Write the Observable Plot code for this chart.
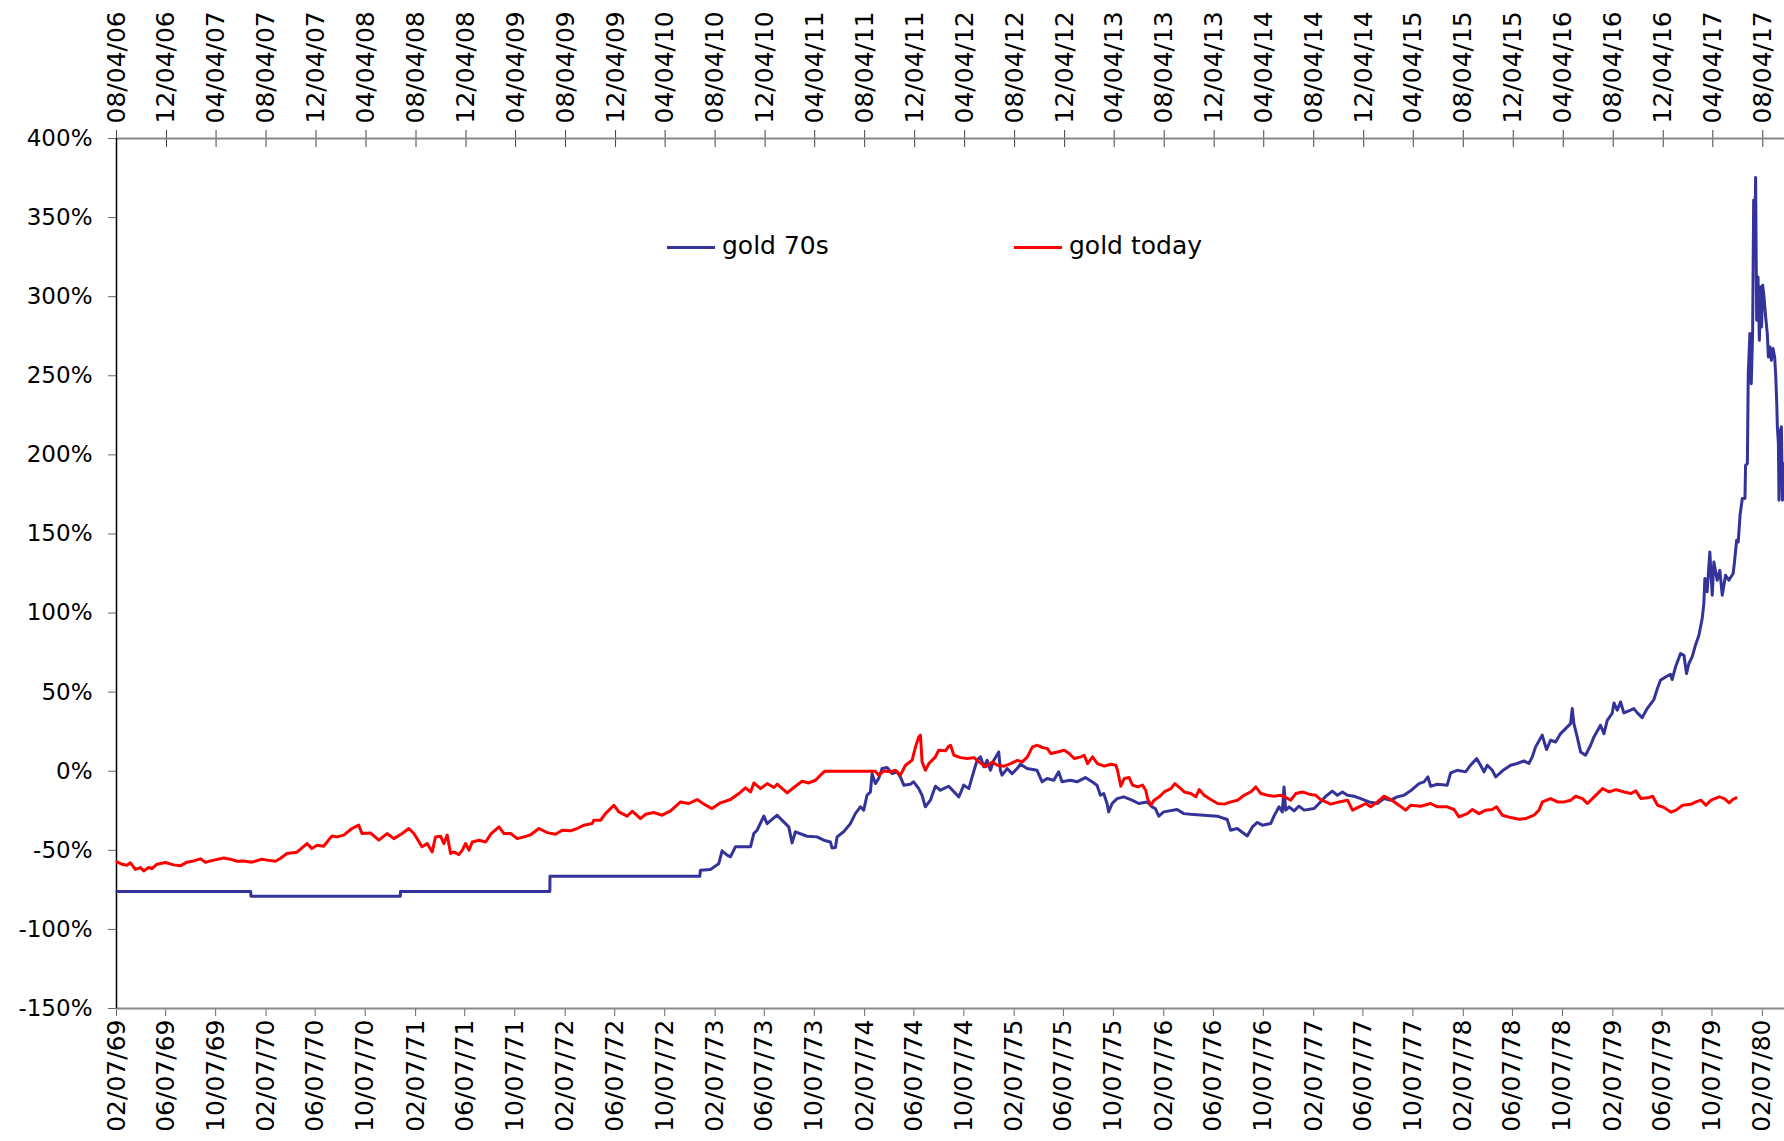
<!DOCTYPE html>
<html>
<head>
<meta charset="utf-8">
<script src="https://cdn.jsdelivr.net/npm/d3@7"></script>
<script src="https://cdn.jsdelivr.net/npm/@observablehq/plot@0.6"></script>
<style>
  html, body { margin: 0; padding: 0; background: #fff; }
  #wrap { position: relative; width: 1784px; height: 1141px; }
  .leg { position: absolute; font-family: "DejaVu Sans", sans-serif; font-size: 25px; line-height: 30px; color: #000; white-space: nowrap; }
  .sw { position: absolute; height: 3px; }
</style>
</head>
<body>
<div id="wrap"></div>
<script>
// ---- DATA (dates as decimal years, values in %) ----
const seriesNames = ["gold 70s", "gold today"];
const seriesColors = ["#333399", "#ff0000"];

const gold70s = [
[1969.104,-76.1],[1969.999,-76.1],[1970.000,-79.0],[1970.999,-79.0],[1971.000,-76.1],[1971.999,-76.1],
[1972.000,-66.4],[1972.999,-66.4],[1973.003,-62.6],[1973.070,-62.1],[1973.126,-58.4],[1973.148,-50.3],
[1973.182,-53.1],[1973.204,-54.1],[1973.237,-47.8],[1973.338,-47.8],[1973.360,-39.4],[1973.382,-37.3],
[1973.427,-28.4],[1973.449,-33.1],[1973.516,-27.8],[1973.560,-32.0],[1973.594,-35.2],[1973.616,-45.3],
[1973.638,-38.3],[1973.716,-41.1],[1973.783,-41.5],[1973.828,-43.6],[1973.872,-44.7],[1973.883,-48.5],
[1973.906,-48.2],[1973.917,-41.5],[1973.961,-38.3],[1974.006,-33.1],[1974.039,-26.8],[1974.073,-22.5],
[1974.095,-24.6],[1974.117,-15.2],[1974.140,-13.1],[1974.151,-1.5],[1974.173,-7.8],[1974.195,-4.6],
[1974.218,1.7],[1974.251,2.3],[1974.285,-1.5],[1974.318,-0.4],[1974.340,-3.6],[1974.363,-8.8],
[1974.407,-8.2],[1974.429,-6.7],[1974.463,-11.0],[1974.485,-15.2],[1974.507,-22.5],[1974.541,-18.3],
[1974.574,-9.5],[1974.608,-12.0],[1974.663,-9.5],
[1974.731,-16.2],[1974.764,-8.8],[1974.798,-11.0],[1974.820,-3.6],[1974.853,6.9],[1974.876,9.1],
[1974.898,2.8],[1974.920,6.9],[1974.942,0.6],[1974.965,6.9],[1974.998,12.2],[1975.009,0.6],
[1975.020,-2.5],[1975.054,1.7],[1975.087,-1.5],[1975.121,1.7],[1975.143,4.4],[1975.187,1.7],
[1975.254,0.6],[1975.288,-6.7],[1975.321,-4.6],[1975.366,-5.7],[1975.399,-0.4],[1975.421,-6.7],
[1975.477,-5.7],[1975.522,-6.7],[1975.577,-4.0],[1975.622,-6.7],[1975.655,-8.8],[1975.678,-15.2],
[1975.700,-14.1],[1975.722,-20.4],[1975.733,-25.7],[1975.756,-20.4],[1975.789,-17.3],[1975.834,-16.2],
[1975.889,-18.3],[1975.934,-20.4],[1975.990,-19.4],[1976.023,-22.5],[1976.045,-23.6],[1976.068,-28.4],
[1976.101,-25.7],[1976.190,-24.2],[1976.235,-26.8],[1976.279,-27.2],[1976.368,-27.8],[1976.458,-28.4],
[1976.524,-30.5],[1976.547,-37.3],[1976.591,-36.2],[1976.636,-39.4],[1976.658,-40.9],[1976.692,-35.2],
[1976.725,-32.4],[1976.758,-34.1],[1976.814,-33.1],[1976.836,-28.4],[1976.870,-22.5],[1976.892,-25.7],
[1976.903,-9.9],[1976.914,-24.6],[1976.937,-22.5],[1976.970,-25.1],[1977.003,-22.1],[1977.037,-24.6],
[1977.104,-23.6],[1977.137,-20.4],[1977.182,-15.8],[1977.226,-12.6],[1977.260,-15.2],[1977.293,-13.1],
[1977.327,-15.2],[1977.371,-15.8],[1977.416,-17.3],[1977.471,-19.4],
[1977.527,-20.4],[1977.571,-17.3],[1977.616,-18.3],[1977.660,-16.2],[1977.705,-15.2],[1977.749,-12.4],
[1977.805,-7.8],[1977.839,-6.7],[1977.865,-3.6],[1977.883,-9.5],[1977.928,-8.2],[1977.994,-8.8],
[1978.017,-1.0],[1978.061,0.6],[1978.117,-0.4],[1978.150,3.8],[1978.191,8.0],[1978.217,3.8],
[1978.240,-0.4],[1978.262,3.8],[1978.295,0.6],[1978.318,-3.6],[1978.373,1.0],[1978.418,3.8],
[1978.462,4.9],[1978.507,6.5],[1978.540,4.9],[1978.563,9.1],[1978.585,15.4],[1978.629,22.8],
[1978.658,13.7],[1978.685,19.6],[1978.719,18.5],[1978.752,23.8],[1978.797,28.0],[1978.819,30.1],
[1978.830,39.6],[1978.841,30.1],[1978.863,21.7],[1978.886,12.2],[1978.919,10.1],[1978.953,16.4],
[1978.975,21.7],[1979.019,29.1],[1979.042,23.8],[1979.064,32.2],[1979.097,36.5],[1979.109,43.2],
[1979.131,38.6],[1979.153,43.8],[1979.175,36.9],[1979.220,38.6],[1979.242,39.6],[1979.265,36.9],
[1979.298,33.9],[1979.331,39.6],[1979.376,45.3],[1979.403,53.3],[1979.420,57.5],[1979.454,59.6],
[1979.487,61.3],[1979.498,58.0],[1979.521,66.0],[1979.554,74.4],[1979.577,73.3],[1979.594,61.7],
[1979.610,68.1],[1979.632,72.3],[1979.654,79.7],[1979.677,86.0],[1979.699,96.5],[1979.710,106.0],
[1979.717,121.8],[1979.732,113.4],[1979.750,138.6],[1979.766,111.3],[1979.777,132.3],[1979.799,120.7],
[1979.817,127.0],[1979.833,111.3],[1979.855,123.9],[1979.877,120.7],[1979.906,125.0],[1979.915,132.3],
[1979.929,146.0],[1979.940,145.0],[1979.952,161.8],[1979.967,172.4],[1979.985,172.4],[1979.989,193.4],
[1980.001,194.5],[1980.007,251.4],[1980.018,276.7],[1980.027,245.0],[1980.036,276.7],[1980.043,360.9],
[1980.050,335.6],[1980.056,375.3],[1980.063,285.1],[1980.072,312.5],[1980.081,272.4],[1980.090,306.2],
[1980.096,280.9],[1980.103,307.2],[1980.112,299.8],[1980.123,287.2],[1980.134,276.7],[1980.141,261.9],
[1980.152,268.2],[1980.161,259.8],[1980.172,267.2],[1980.183,261.9],[1980.190,250.3],[1980.197,232.4],
[1980.201,217.7],[1980.208,207.1],[1980.212,171.3],[1980.219,214.5],[1980.228,217.7],[1980.235,171.3],
[1980.241,194.5]
];

const goldToday = [
[2006.593,-57.3],[2006.626,-58.8],[2006.659,-59.4],[2006.682,-57.9],[2006.715,-62.1],[2006.749,-60.9],
[2006.771,-63.0],[2006.804,-60.9],[2006.827,-61.5],[2006.860,-58.8],[2006.916,-57.7],[2006.971,-59.2],
[2007.016,-59.8],[2007.060,-57.5],[2007.105,-56.7],[2007.150,-55.4],[2007.183,-57.5],[2007.239,-56.2],
[2007.306,-54.8],[2007.350,-55.6],[2007.395,-56.9],[2007.439,-56.7],[2007.495,-57.5],[2007.562,-55.6],
[2007.595,-56.2],[2007.651,-56.9],[2007.684,-55.2],[2007.729,-52.0],[2007.796,-51.2],[2007.863,-45.7],
[2007.896,-48.9],[2007.930,-46.8],[2007.974,-47.4],[2008.030,-40.9],[2008.063,-41.5],[2008.108,-40.4],
[2008.163,-36.2],[2008.208,-34.1],[2008.230,-39.4],[2008.286,-39.0],[2008.342,-43.6],[2008.397,-39.4],
[2008.442,-42.6],[2008.498,-39.4],[2008.542,-36.2],[2008.576,-39.4],[2008.631,-47.8],[2008.665,-45.7],
[2008.698,-51.0],[2008.720,-41.5],[2008.754,-41.1],[2008.776,-45.7],[2008.798,-40.4],[2008.821,-52.0],
[2008.843,-51.0],[2008.876,-52.7],[2008.899,-49.9],[2008.921,-45.7],[2008.943,-49.9],[2008.966,-44.7],
[2009.010,-43.6],[2009.055,-44.7],[2009.088,-39.8],[2009.144,-35.2],[2009.177,-39.4],[2009.222,-39.4],
[2009.266,-42.6],[2009.311,-41.5],[2009.355,-40.2],[2009.411,-36.2],[2009.466,-38.8],[2009.522,-39.8],
[2009.567,-37.3],[2009.622,-37.7],[2009.667,-36.2],[2009.712,-34.1],[2009.767,-33.1],[2009.778,-31.0],
[2009.823,-31.0],[2009.856,-26.8],[2009.912,-21.5],[2009.945,-25.7],[2010.001,-28.4],[2010.035,-25.3],
[2010.090,-29.9],[2010.124,-27.2],[2010.179,-26.1],[2010.235,-27.8],[2010.291,-25.1],[2010.358,-19.4],
[2010.413,-20.4],[2010.469,-17.9],[2010.514,-20.8],[2010.569,-23.6],[2010.625,-20.0],[2010.692,-17.9],
[2010.748,-14.1],[2010.792,-10.5],[2010.826,-13.1],[2010.848,-7.4],[2010.893,-11.0],[2010.937,-7.8],
[2010.982,-10.3],[2011.004,-8.2],[2011.071,-13.7],[2011.115,-10.3],[2011.171,-6.3],[2011.216,-7.4],
[2011.260,-5.7],[2011.316,-0.4],[2011.327,0.0],[2011.661,0.0],[2011.683,-2.5],[2011.717,0.2],
[2011.761,-0.4],[2011.795,0.6],[2011.828,-2.5],[2011.862,3.8],[2011.906,6.9],[2011.929,15.4],
[2011.951,21.7],[2011.962,22.8],[2011.973,5.9],[2011.995,0.6],[2012.018,4.8],[2012.062,9.1],
[2012.084,13.3],[2012.129,12.9],[2012.151,15.8],[2012.163,16.4],[2012.185,10.1],[2012.230,8.6],
[2012.274,8.0],[2012.319,8.6],[2012.352,5.9],[2012.397,2.8],[2012.442,5.9],[2012.475,3.8],
[2012.520,3.2],[2012.564,4.8],[2012.609,6.9],[2012.642,5.9],[2012.675,9.1],[2012.709,15.4],
[2012.742,16.4],[2012.776,15.0],[2012.809,14.3],[2012.831,11.2],[2012.876,12.2],[2012.921,13.3],
[2012.954,11.2],[2012.987,8.0],[2013.032,9.1],[2013.054,10.1],[2013.077,4.8],[2013.110,9.1],
[2013.143,4.8],[2013.188,3.2],[2013.233,4.4],[2013.266,3.8],[2013.277,0.6],[2013.299,-9.5],
[2013.322,-4.6],[2013.355,-4.0],[2013.377,-8.8],[2013.411,-9.9],[2013.444,-8.8],[2013.466,-12.0],
[2013.478,-17.3],[2013.500,-21.5],[2013.522,-18.3],[2013.556,-16.2],[2013.589,-13.1],[2013.634,-11.0],
[2013.660,-7.8],[2013.700,-11.0],[2013.723,-13.1],[2013.767,-14.1],[2013.801,-16.2],[2013.823,-11.6],
[2013.856,-15.2],[2013.901,-17.9],[2013.946,-20.4],[2013.990,-20.8],[2014.035,-19.4],[2014.079,-18.3],
[2014.124,-15.2],[2014.168,-13.1],[2014.202,-9.9],[2014.235,-14.1],[2014.280,-15.2],[2014.324,-15.8],
[2014.369,-15.2],[2014.402,-16.6],[2014.436,-18.3],[2014.469,-14.1],[2014.514,-13.1],[2014.558,-14.5],
[2014.603,-15.2],[2014.636,-17.9],[2014.703,-20.8],[2014.759,-19.4],[2014.815,-18.3],[2014.848,-24.6],
[2014.893,-22.5],[2014.937,-20.4],[2014.970,-22.5],[2015.015,-19.4],[2015.059,-15.8],[2015.104,-17.9],
[2015.159,-21.5],[2015.204,-24.6],[2015.237,-21.5],[2015.304,-22.1],[2015.371,-20.4],[2015.416,-22.5],
[2015.482,-22.5],[2015.527,-24.2],[2015.560,-28.9],[2015.616,-26.8],[2015.650,-24.2],[2015.694,-26.8],
[2015.739,-24.6],[2015.783,-24.2],[2015.812,-22.5],[2015.850,-27.8],[2015.906,-29.3],[2015.962,-30.3],
[2016.006,-29.9],[2016.062,-27.8],[2016.095,-24.6],[2016.118,-19.4],[2016.173,-17.3],[2016.218,-19.4],
[2016.262,-19.4],[2016.307,-18.3],[2016.340,-15.8],[2016.385,-17.3],[2016.418,-20.4],[2016.463,-16.2],
[2016.519,-11.0],[2016.563,-13.1],[2016.608,-11.6],[2016.663,-13.1],[2016.708,-14.1],[2016.741,-12.4],
[2016.775,-17.3],[2016.831,-16.6],[2016.853,-15.8],[2016.886,-21.5],[2016.931,-23.0],[2016.975,-25.9],
[2017.009,-24.6],[2017.053,-21.5],[2017.109,-20.9],[2017.142,-19.4],[2017.176,-18.3],[2017.209,-21.5],
[2017.243,-18.3],[2017.298,-16.2],[2017.332,-17.3],[2017.365,-20.0],[2017.388,-17.9],[2017.410,-16.8]
];

const bottomTickLabels = ["02/07/69","06/07/69","10/07/69","02/07/70","06/07/70","10/07/70","02/07/71","06/07/71","10/07/71","02/07/72","06/07/72","10/07/72","02/07/73","06/07/73","10/07/73","02/07/74","06/07/74","10/07/74","02/07/75","06/07/75","10/07/75","02/07/76","06/07/76","10/07/76","02/07/77","06/07/77","10/07/77","02/07/78","06/07/78","10/07/78","02/07/79","06/07/79","10/07/79","02/07/80"];
const topTickLabels = ["08/04/06","12/04/06","04/04/07","08/04/07","12/04/07","04/04/08","08/04/08","12/04/08","04/04/09","08/04/09","12/04/09","04/04/10","08/04/10","12/04/10","04/04/11","08/04/11","12/04/11","04/04/12","08/04/12","12/04/12","04/04/13","08/04/13","12/04/13","04/04/14","08/04/14","12/04/14","04/04/15","08/04/15","12/04/15","04/04/16","08/04/16","12/04/16","04/04/17","08/04/17"];
const yTicks = [-150,-100,-50,0,50,100,150,200,250,300,350,400];

// ---- helpers ----
function fromDecimal(y) {
  const Y = Math.floor(y), s = Date.UTC(Y,0,1), e = Date.UTC(Y+1,0,1);
  return new Date(s + (y - Y) * (e - s));
}
function parseLabel(s, century) {
  const [mm, dd, yy] = s.split("/").map(Number);
  return new Date(Date.UTC(century + yy, mm - 1, dd));
}
const start70 = Date.UTC(1969,1,7);
const startToday = Date.UTC(2006,7,4);
const shift = startToday - start70;   // aligns today's series with the 70s

const data70 = gold70s.map(([t, v]) => ({date: fromDecimal(t), value: v}));
const dataToday = goldToday.map(([t, v]) => ({date: new Date(+fromDecimal(t) - shift), value: v}));

const bottomTicks = bottomTickLabels.map(s => parseLabel(s, 1900));
const topTicks = topTickLabels.map(s => new Date(+parseLabel(s, 2000) - shift));
const bottomMap = new Map(bottomTicks.map((d, i) => [+d, bottomTickLabels[i]]));
const topMap = new Map(topTicks.map((d, i) => [+d, topTickLabels[i]]));

const ky = 550 / 870; // % per pixel

const chart = Plot.plot({
  width: 1784,
  height: 1141,
  marginLeft: 116,
  marginRight: 0,
  marginTop: 138,
  marginBottom: 133,
  style: {fontFamily: "DejaVu Sans, sans-serif", fontSize: "25px", background: "white", color: "black", overflow: "visible"},
  x: {type: "utc", domain: [new Date(start70), new Date(Date.UTC(1980,3,1))], label: null},
  y: {domain: [-150, 400], label: null},
  marks: [
    Plot.axisY(yTicks, {tickSize: 8, tickPadding: 16, tickFormat: d => `${d}%`, stroke: "#666", fontSize: 23, label: null}),
    Plot.axisX(bottomTicks, {anchor: "bottom", tickRotate: -90, tickSize: 8, tickPadding: 3, stroke: "#666", tickFormat: d => bottomMap.get(+d), label: null}),
    Plot.axisX(topTicks, {anchor: "top", tickRotate: -90, tickSize: 0, tickPadding: 15, tickFormat: d => topMap.get(+d), label: null}),
    Plot.ruleX(topTicks, {x: d => d, y1: 400 + 8 * ky, y2: 400 - 9 * ky, stroke: "#444", strokeWidth: 1}),
    Plot.ruleY([400], {stroke: "#888", strokeWidth: 2}),
    Plot.ruleY([-150], {stroke: "#888", strokeWidth: 2}),
    Plot.ruleX([new Date(start70)], {stroke: "black", strokeWidth: 1.5}),
    Plot.line(data70, {x: "date", y: "value", stroke: seriesColors[0], strokeWidth: 3}),
    Plot.line(dataToday, {x: "date", y: "value", stroke: seriesColors[1], strokeWidth: 3})
  ]
});

const wrap = document.getElementById("wrap");
wrap.appendChild(chart);

// legend (inside the plot area, as in the original)
const legendItems = [
  {name: seriesNames[0], color: seriesColors[0], left: 667},
  {name: seriesNames[1], color: seriesColors[1], left: 1014}
];
for (const it of legendItems) {
  const sw = document.createElement("div");
  sw.className = "sw";
  sw.style.left = it.left + "px";
  sw.style.top = "246px";
  sw.style.width = "48px";
  sw.style.background = it.color;
  wrap.appendChild(sw);
  const tx = document.createElement("div");
  tx.className = "leg";
  tx.style.left = (it.left + 55) + "px";
  tx.style.top = "231px";
  tx.textContent = it.name;
  wrap.appendChild(tx);
}
</script>
</body>
</html>
